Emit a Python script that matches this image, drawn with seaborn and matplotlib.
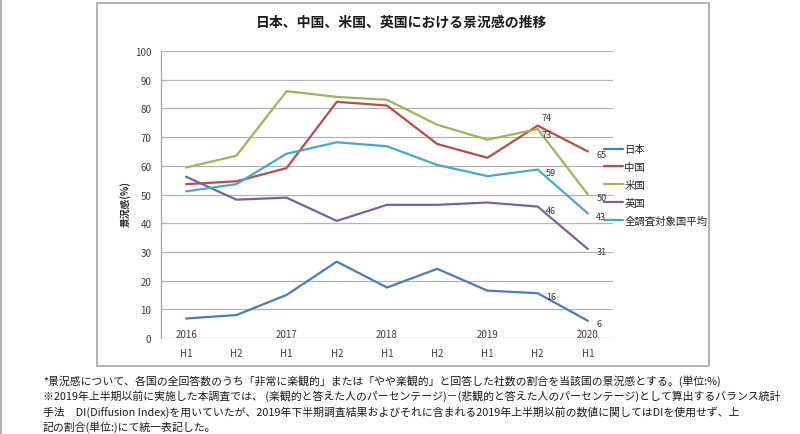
import matplotlib
matplotlib.use("Agg")
import matplotlib.pyplot as plt
import matplotlib.patches as mpatches
import matplotlib.lines as mlines
import pandas as pd
import seaborn as sns

# chart data
periods = ["2016H1", "2016H2", "2017H1", "2017H2", "2018H1",
           "2018H2", "2019H1", "2019H2", "2020H1"]
half_labels = ["H1", "H2", "H1", "H2", "H1", "H2", "H1", "H2", "H1"]
year_labels = ["2016", "", "2017", "", "2018", "", "2019", "", "2020"]

japan = [6.8, 8.0, 15.0, 26.6, 17.6, 24.1, 16.5, 15.6, 6.0]
china = [53.6, 54.6, 59.2, 82.3, 81.0, 67.6, 62.8, 74.0, 65.0]
usa = [59.4, 63.5, 86.0, 84.0, 83.0, 74.3, 69.1, 72.8, 50.0]
uk = [56.2, 48.2, 48.9, 40.8, 46.4, 46.4, 47.2, 45.8, 31.0]
average = [51.1, 53.6, 64.2, 68.2, 66.8, 60.3, 56.4, 58.7, 43.4]

series_names = ["日本", "中国", "米国", "英国", "全調査対象国平均"]
series_values = [japan, china, usa, uk, average]
colors = ["#4A7EBB", "#BE4B48", "#98B954", "#7D60A0", "#46AAC5"]

title = "日本、中国、米国、英国における景況感の推移"
ylabel = "景況感(%)"
footnotes = [
    "*景況感について、各国の全回答数のうち「非常に楽観的」または「やや楽観的」と回答した社数の割合を当該国の景況感とする。(単位:%)",
    "※2019年上半期以前に実施した本調査では、 (楽観的と答えた人のパーセンテージ)－(悲観的と答えた人のパーセンテージ)として算出するバランス統計",
    "手法　DI(Diffusion Index)を用いていたが、2019年下半期調査結果およびそれに含まれる2019年上半期以前の数値に関してはDIを使用せず、上",
    "記の割合(単位:)にて統一表記した。",
]

# which points get a value label, and the label offset in points
label_offsets = {
    7: [(6, -2), (3, 6), (3, -4), (6, -3), (6, -2)],
    8: [(6, -2), (6, -2), (6, -2), (6, -2), (6, -2)],
}

rows = []
for name, vals in zip(series_names, series_values):
    for i, v in enumerate(vals):
        rows.append({"pos": i, "period": periods[i], "value": v, "series": name})
df = pd.DataFrame(rows)

sns.set_style("white")
plt.rcParams["font.family"] = ["Noto Sans CJK JP", "DejaVu Sans"]

fig = plt.figure(figsize=(8, 4.35), dpi=100)
ax = fig.add_axes([161 / 800, 1 - 339 / 435, 452 / 800, 287 / 435])

sns.lineplot(data=df, x="pos", y="value", hue="series", hue_order=series_names,
             palette=colors, linewidth=1.6, ax=ax, sort=False)

ax.set_xlim(-0.5, len(periods) - 0.5)
ax.set_ylim(0, 100)
ax.set_yticks(range(0, 101, 10))
ax.set_xticks(range(len(periods)))
ax.set_xticklabels(half_labels)
ax.tick_params(axis="both", length=0, labelsize=7, colors="#404040")
ax.tick_params(axis="x", pad=7)
ax.tick_params(axis="y", pad=7)
ax.yaxis.grid(True, color="#B4B4B4", linewidth=0.9)
ax.set_axisbelow(True)
for side in ["top", "right", "bottom"]:
    ax.spines[side].set_visible(False)
ax.spines["left"].set_color("#A6A6A6")
ax.spines["left"].set_linewidth(0.9)
ax.set_xlabel("")
ax.set_ylabel("")

# year labels of the two-level category axis
for i, yr in enumerate(year_labels):
    if yr:
        ax.text(i, 0.014, yr, transform=ax.get_xaxis_transform(),
                ha="center", va="center", fontsize=7, color="#404040")

# value labels
for idx, offsets in label_offsets.items():
    for vals, off in zip(series_values, offsets):
        ax.annotate(f"{round(vals[idx])}", (idx, vals[idx]), xytext=off,
                    textcoords="offset points", ha="left", va="center",
                    fontsize=6.5, color="#333333")

handles, labels = ax.get_legend_handles_labels()
ax.legend(handles, labels, loc="center left",
          bbox_to_anchor=(604 / 800, 1 - 186 / 435), bbox_transform=fig.transFigure,
          frameon=False, fontsize=7.5, handlelength=1.8, handletextpad=0.15,
          labelspacing=0.75, borderpad=0, borderaxespad=0)

fig.text(402 / 800, 1 - 23 / 435, title, ha="center", va="center",
         fontsize=10, fontweight="bold", color="#1a1a1a")
fig.text(125 / 800, 1 - 204 / 435, ylabel, ha="center", va="center",
         rotation=90, fontsize=7, fontweight="bold", color="#262626")

# chart frame and page edge
fig.patches.append(mpatches.Rectangle((97 / 800, 1 - 367 / 435), 612 / 800, 363 / 435,
                                      transform=fig.transFigure, fill=False,
                                      edgecolor="#A6A6A6", linewidth=1.2))
fig.lines.append(mlines.Line2D([0.001, 0.001], [0, 1], transform=fig.transFigure,
                               color="#A6A6A6", linewidth=1.2))

for k, line in enumerate(footnotes):
    fig.text(43 / 800, 1 - (381 + k * 15.5) / 435, line, ha="left", va="center",
             fontsize=7.8, color="#1a1a1a")

fig.savefig("out.png", dpi=100)
